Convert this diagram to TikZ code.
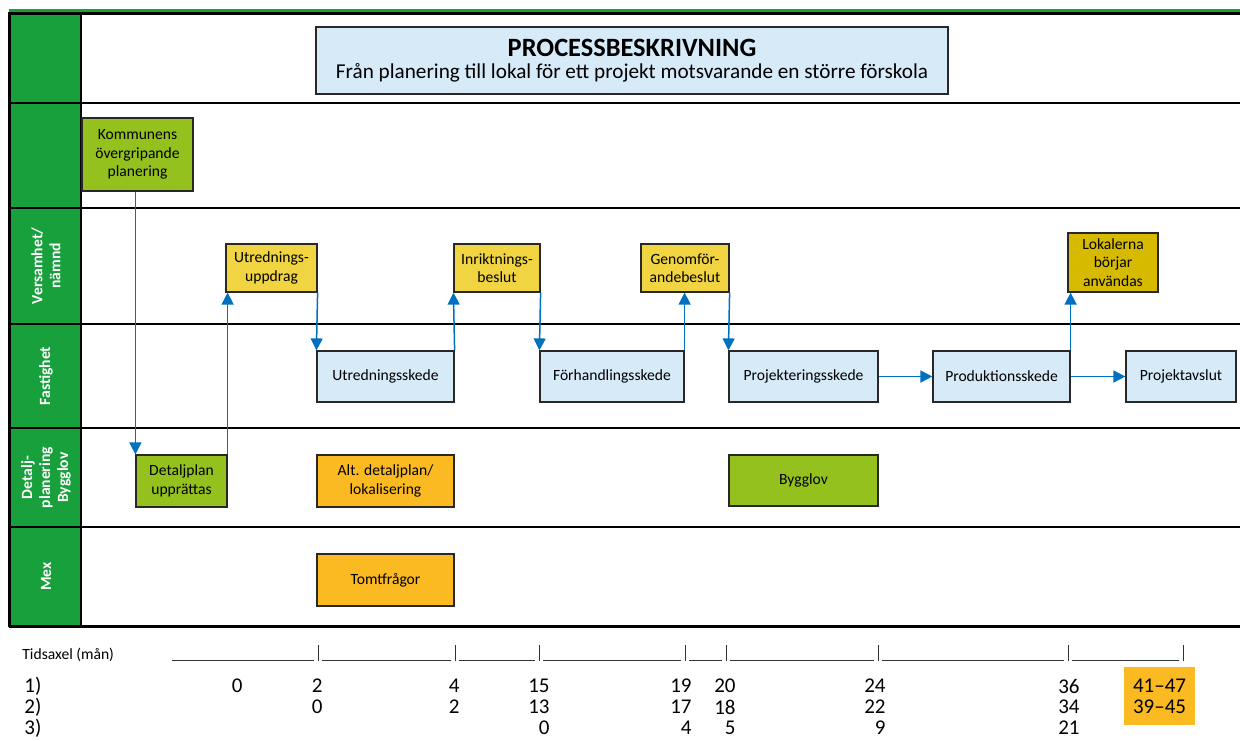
\documentclass[tikz,border=0pt]{standalone}
\usepackage{fontspec}
\setmainfont{Carlito}
\usetikzlibrary{arrows.meta}

\definecolor{sidegreen}{RGB}{24,160,60}
\definecolor{olive}{RGB}{149,193,31}
\definecolor{beslut}{RGB}{240,212,66}
\definecolor{darkbeslut}{RGB}{214,186,0}
\definecolor{orangefill}{RGB}{251,186,34}
\definecolor{skede}{RGB}{214,234,248}
\definecolor{flowblue}{RGB}{0,112,192}
\definecolor{boxline}{RGB}{40,40,40}

\tikzset{
  box/.style={draw=boxline, line width=0.6pt, inner sep=0pt, align=center,
    font=\fontsize{7.8}{9.2}\selectfont},
  sz/.style 2 args={minimum width=#1*0.5pt, minimum height=#2*0.5pt},
  greenbox/.style={box, fill=olive},
  yellowbox/.style={box, fill=beslut},
  bluebox/.style={box, fill=skede},
  orangebox/.style={box, fill=orangefill},
  flow/.style={draw=flowblue, line width=0.75pt, -{Triangle[width=6pt,length=6pt]}},
  lane/.style={line width=1pt, black},
  frame/.style={line width=1.5pt, black},
  sidelbl/.style={rotate=90, text=white, align=center,
    font=\fontsize{7.8}{9}\selectfont\bfseries},
  axis/.style={line width=0.5pt, black!80},
  num/.style={anchor=east, inner sep=0pt, font=\fontsize{10.5}{10.5}\selectfont}
}

\begin{document}
\begin{tikzpicture}[x=0.5pt, y=-0.5pt]
  \useasboundingbox (0,0) rectangle (1240,740);

  % swimlanes
  \fill[sidegreen] (10,13) rectangle (81,626);
  \draw[line width=1.5pt, sidegreen] (9,10) -- (1240,10);
  \draw[frame] (9,13) -- (1240,13);
  \foreach \y in {103,208,324,428,527}
    \draw[lane] (9,\y) -- (1240,\y);
  \draw[frame] (9,626.5) -- (1240,626.5);
  \draw[frame] (9,12) -- (9,627);
  \draw[lane] (81,13) -- (81,626);

  \node[sidelbl] (l3) at (46,266) {Versamhet/\\nämnd};
  \node[sidelbl] (l4) at (46,376) {Fastighet};
  \node[sidelbl] (l5) at (46,477.5) {Detalj-\\planering\\Bygglov};
  \node[sidelbl] (l6) at (46,576.5) {Mex};

  % title
  \node[bluebox, sz={632}{67}] (title) at (632,60.5)
    {{\fontsize{13.2}{14}\selectfont\bfseries PROCESSBESKRIVNING}\\[2pt]
     {\fontsize{10.6}{12}\selectfont Från planering till lokal för ett projekt motsvarande en större förskola}};

  % boxes
  \node[greenbox, sz={111}{73}] (kommun) at (137.5,154.5) {Kommunens\\övergripande\\planering};

  \node[yellowbox, sz={91}{48}] (uuppdrag) at (271.5,268) {Utrednings-\\uppdrag};
  \node[yellowbox, sz={86}{48}] (inrikt) at (497,268) {Inriktnings-\\beslut};
  \node[yellowbox, sz={88}{48}] (genomf) at (685,268) {Genomför-\\andebeslut};
  \node[box, fill=darkbeslut, sz={90}{59}] (lokal) at (1113,262.5) {Lokalerna\\börjar\\användas};

  \node[bluebox, sz={137}{51}] (uskede) at (385.5,376.5) {Utredningsskede};
  \node[bluebox, sz={144}{51}] (forhand) at (612,376.5) {Förhandlingsskede};
  \node[bluebox, sz={149}{51}] (projekt) at (803.5,376.5) {Projekteringsskede};
  \node[bluebox, sz={137}{51}] (produkt) at (1001.5,376.5) {Produktionsskede};
  \node[bluebox, sz={110}{51}] (avslut) at (1181,376.5) {Projektavslut};

  \node[greenbox, sz={91}{52}] (detalj) at (181.5,481) {Detaljplan\\upprättas};
  \node[orangebox, sz={137}{52}] (altdet) at (385.5,481) {Alt. detaljplan/\\lokalisering};
  \node[greenbox, sz={149}{51}] (bygglov) at (803.5,480.5) {Bygglov};

  \node[orangebox, sz={137}{52}] (tomt) at (385.5,580) {Tomtfrågor};

  % flow
  \draw[flow] (kommun.south -| detalj.north west) -- (detalj.north west);
  \draw[flow] (detalj.north east) -- (detalj.north east |- uuppdrag.south);
  \draw[flow] (uuppdrag.south east) -- (uskede.north west);
  \draw[flow] (uskede.north east) -- (inrikt.south west);
  \draw[flow] (inrikt.south east) -- (forhand.north west);
  \draw[flow] (forhand.north east) -- (forhand.north east |- genomf.south);
  \draw[flow] (genomf.south east) -- (projekt.north west);
  \draw[flow] (projekt) -- (produkt);
  \draw[flow] (produkt) -- (avslut);
  \draw[flow] (produkt.north east) -- (produkt.north east |- lokal.south);

  % time axis
  \node[anchor=west, inner sep=0pt, font=\fontsize{7.8}{9}\selectfont] (tid) at (22,655) {Tidsaxel (mån)};
  \foreach \a/\b in {172/314, 322/451, 459/535, 543/681, 689/722, 730/874, 882/1064, 1072/1179}
    \draw[axis] (\a,660) -- (\b,660);
  \foreach \x in {318,455,539,685,726,878,1068,1183}
    \draw[axis] (\x,645) -- (\x,661);

  \node[num, anchor=west] (row1) at (24,686) {1)};
  \node[num, anchor=west] (row2) at (24,707) {2)};
  \node[num, anchor=west] (row3) at (24,728) {3)};
  \foreach \x/\t [count=\i] in {243/0, 323/2, 460/4, 550/15, 692/19, 736/20, 886/24, 1080/36}
    \node[num] (a\i) at (\x,686) {\t};
  \foreach \x/\t [count=\i] in {323/0, 460/2, 550/13, 692/17, 736/18, 886/22, 1080/34}
    \node[num] (b\i) at (\x,707) {\t};
  \foreach \x/\t [count=\i] in {550/0, 692/4, 736/5, 886/9, 1080/21}
    \node[num] (c\i) at (\x,728) {\t};

  \node[fill=orangefill, inner sep=0pt, align=center, minimum width=35.5pt, minimum height=29pt,
    font=\fontsize{10.5}{10.5}\selectfont] (total) at (1159.5,696) {41--47\\39--45};
\end{tikzpicture}
\end{document}
